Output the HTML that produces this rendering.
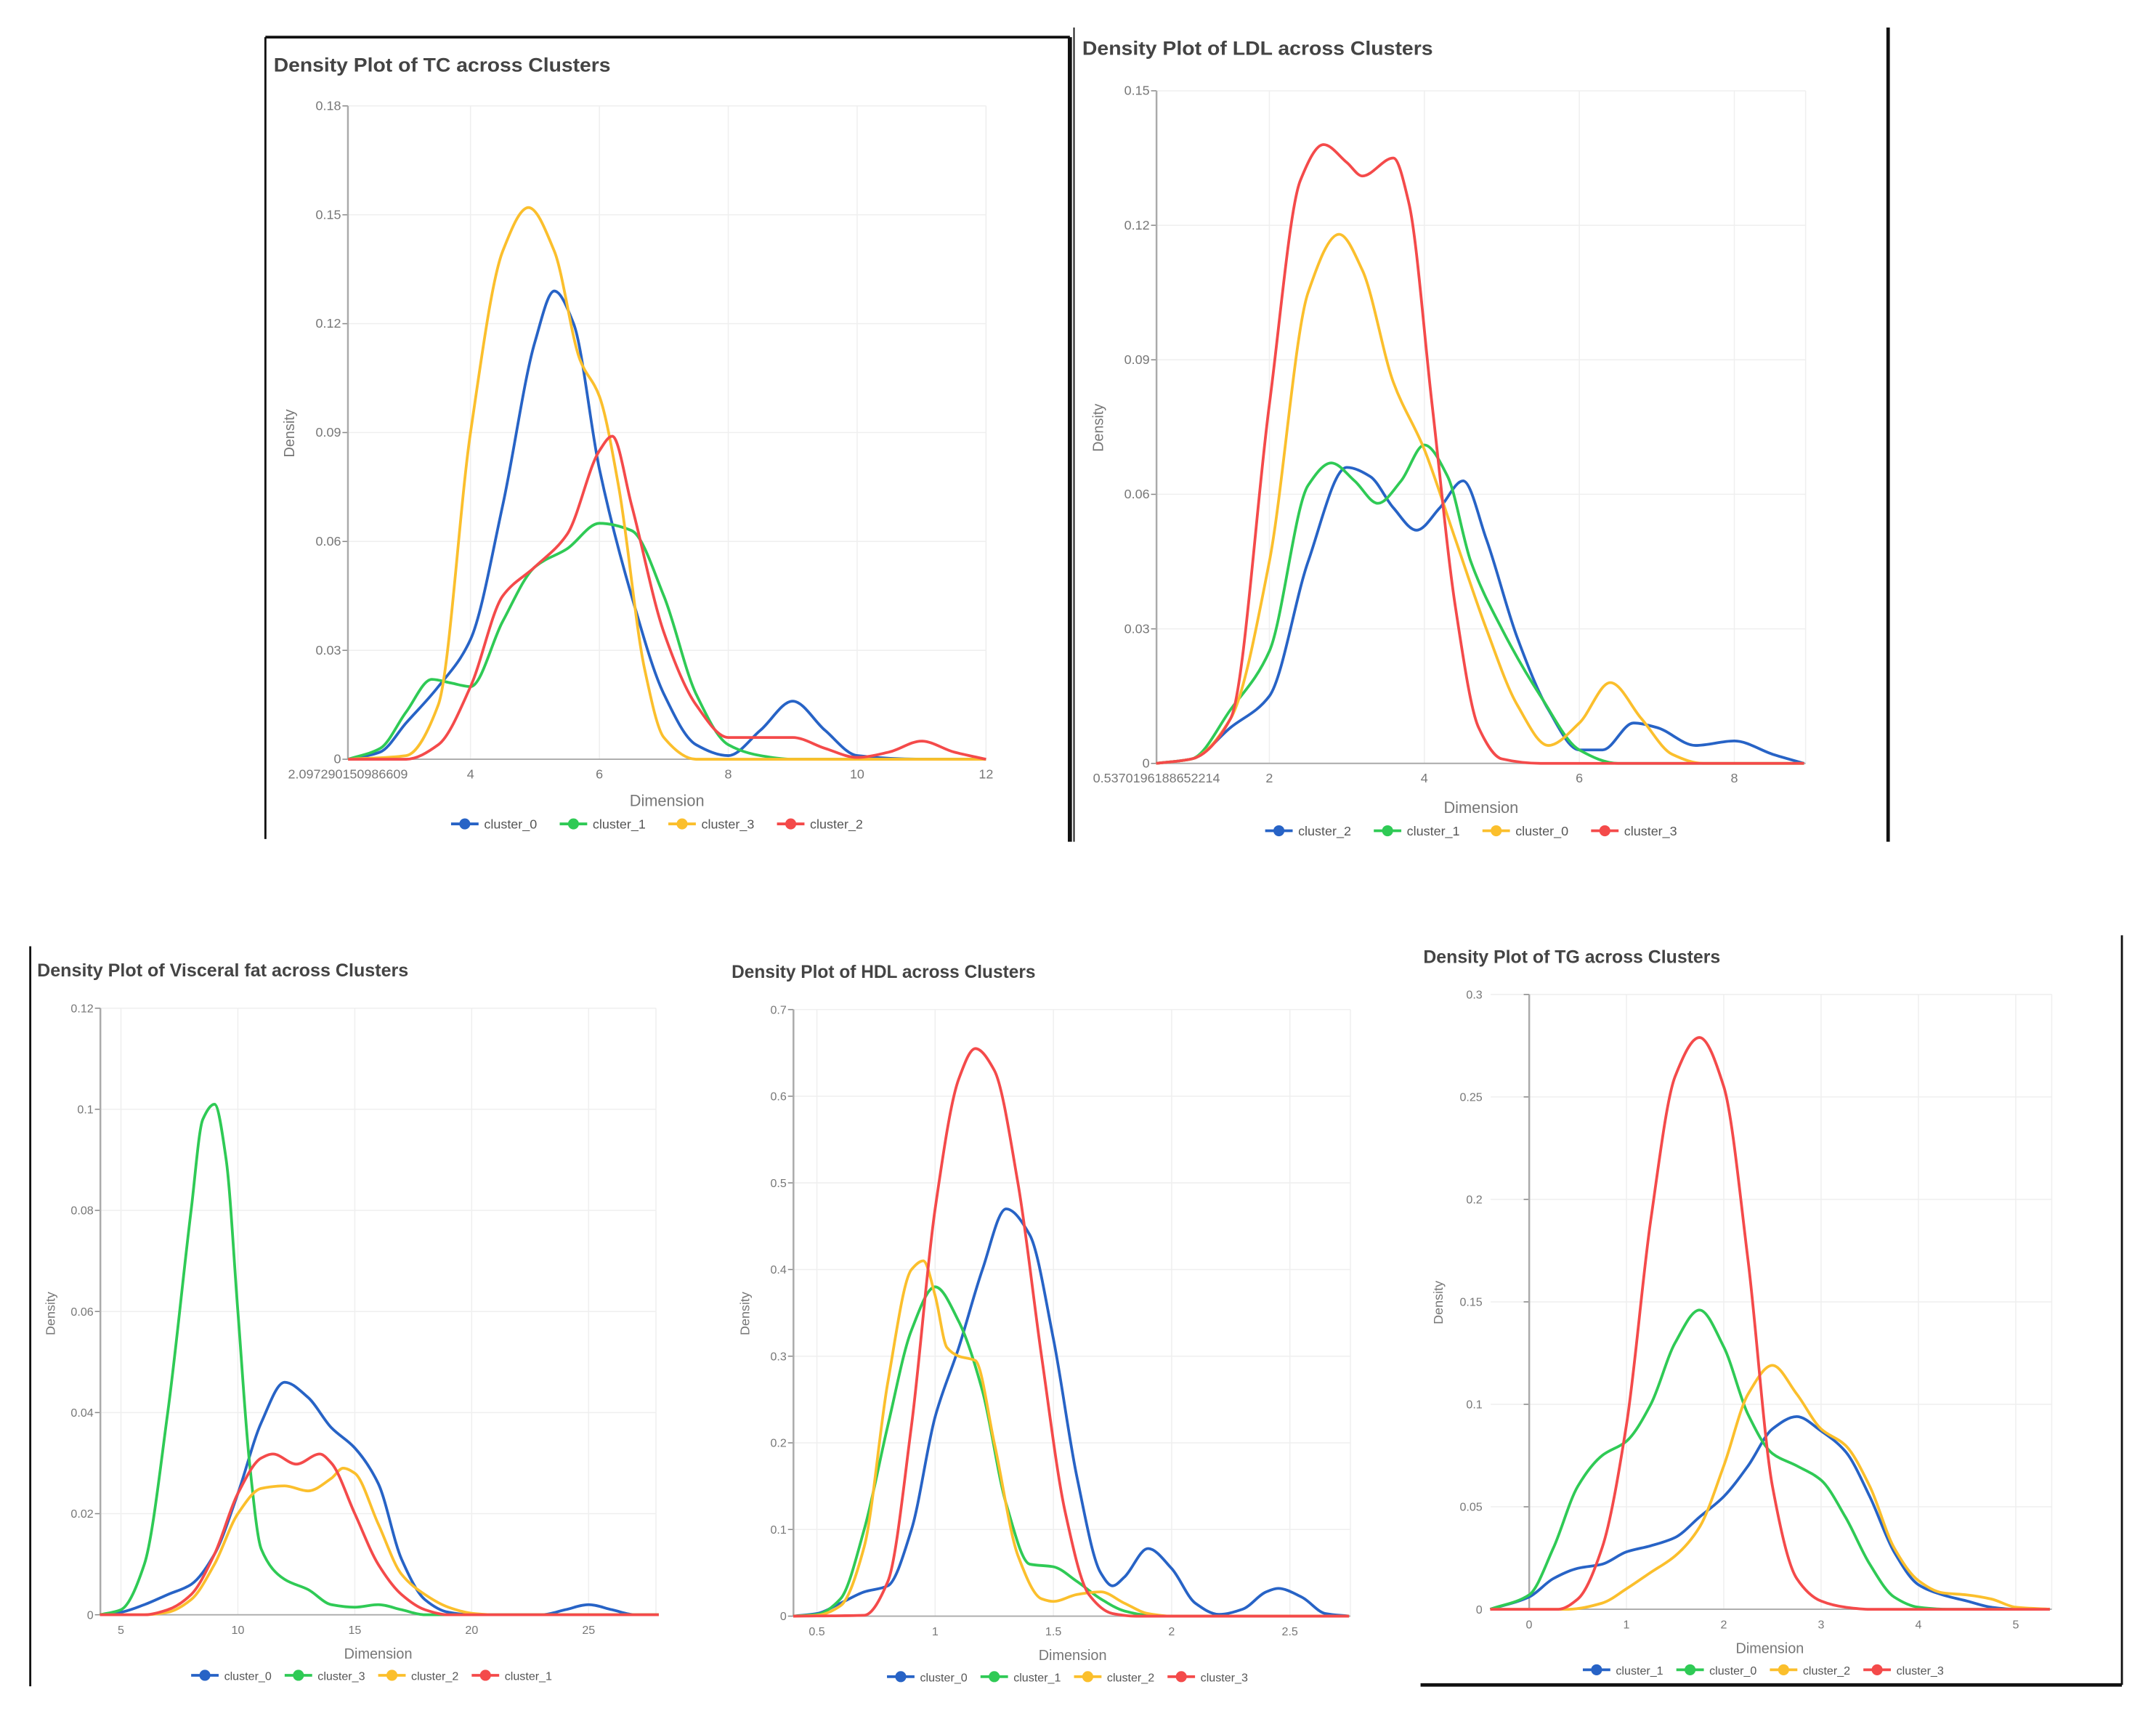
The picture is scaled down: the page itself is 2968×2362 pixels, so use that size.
<!DOCTYPE html>
<html><head><meta charset="utf-8"><style>
html,body{margin:0;padding:0;background:#fff;}
svg{display:block;font-family:"Liberation Sans",sans-serif;}
</style></head><body>
<svg id="root" width="2968" height="2362" viewBox="0 0 1567.8 1247.6" preserveAspectRatio="none" xmlns="http://www.w3.org/2000/svg">
<g stroke="#111" fill="none">
<line x1="193" y1="27" x2="193" y2="610" stroke-width="1.5"/>
<line x1="193" y1="27" x2="778" y2="27" stroke-width="2"/>
<line x1="778" y1="27" x2="778" y2="612" stroke-width="3"/>
<line x1="781" y1="20" x2="781" y2="612" stroke-width="1"/>
<line x1="1373" y1="20" x2="1373" y2="612" stroke-width="2.5"/>
<line x1="22" y1="688" x2="22" y2="1226" stroke-width="1.5"/>
<line x1="1543" y1="680" x2="1543" y2="1225" stroke-width="1.5"/>
<line x1="1033" y1="1225" x2="1543" y2="1225" stroke-width="2.5"/>
</g>
</svg>
<script>
// ---- TC chart data ----
const tcCluster0 = [[2.1,0],[2.6,0.002],[3,0.01],[3.5,0.02],[4,0.033],[4.5,0.07],[5,0.115],[5.3,0.129],[5.6,0.12],[6,0.08],[6.5,0.045],[7,0.018],[7.5,0.004],[8,0.001],[8.5,0.008],[9,0.016],[9.5,0.008],[10,0.001],[11,0],[12,0]];
const tcCluster1 = [[2.1,0],[2.6,0.003],[3,0.013],[3.4,0.022],[3.7,0.021],[4,0.02],[4.5,0.038],[5,0.053],[5.5,0.058],[6,0.065],[6.5,0.063],[7,0.045],[7.5,0.018],[8,0.004],[8.5,0.001],[9,0],[12,0]];
const tcCluster3 = [[2.1,0],[3,0.001],[3.5,0.015],[4,0.09],[4.5,0.14],[4.9,0.152],[5.3,0.14],[5.7,0.11],[6,0.1],[6.3,0.075],[6.7,0.025],[7,0.006],[7.5,0],[12,0]];
const tcCluster2 = [[2.1,0],[3,0],[3.5,0.004],[4,0.02],[4.5,0.045],[5,0.053],[5.5,0.062],[6,0.085],[6.2,0.089],[6.5,0.07],[7,0.035],[7.5,0.015],[8,0.006],[8.5,0.006],[9,0.006],[9.5,0.003],[10,0.0005],[10.5,0.002],[11,0.005],[11.5,0.002],[12,0]];
const tcXTicks = [4,6,8,10,12];
const tcYTicks = [0,0.03,0.06,0.09,0.12,0.15,0.18];
// ---- LDL chart data ----
const ldlCluster2 = [[0.54,0],[1,0.001],[1.5,0.008],[2,0.015],[2.5,0.045],[3,0.066],[3.3,0.064],[3.6,0.057],[3.9,0.052],[4.2,0.057],[4.5,0.063],[4.8,0.05],[5.2,0.028],[5.6,0.012],[6,0.003],[6.3,0.003],[6.7,0.009],[7,0.008],[7.5,0.004],[8,0.005],[8.5,0.002],[8.9,0]];
const ldlCluster1 = [[0.54,0],[1,0.001],[1.5,0.012],[2,0.025],[2.5,0.062],[2.8,0.067],[3.1,0.063],[3.4,0.058],[3.7,0.063],[4,0.071],[4.3,0.064],[4.6,0.045],[5,0.03],[5.5,0.015],[6,0.003],[6.5,0],[8.9,0]];
const ldlCluster0 = [[0.54,0],[1,0.001],[1.5,0.01],[2,0.045],[2.5,0.105],[2.9,0.118],[3.2,0.11],[3.6,0.085],[4,0.07],[4.4,0.05],[4.8,0.03],[5.2,0.013],[5.6,0.004],[6,0.009],[6.4,0.018],[6.8,0.01],[7.2,0.002],[7.6,0],[8.9,0]];
const ldlCluster3 = [[0.54,0],[1,0.001],[1.5,0.01],[2,0.08],[2.4,0.13],[2.7,0.138],[3,0.134],[3.2,0.131],[3.6,0.135],[3.8,0.125],[4.1,0.08],[4.4,0.035],[4.7,0.008],[5,0.001],[5.5,0],[8.9,0]];
const ldlXTicks = [2,4,6,8];
const ldlYTicks = [0,0.03,0.06,0.09,0.12,0.15];
// ---- Visceral fat chart data ----
const vfCluster0 = [[4.1,0],[5,0.0005],[6,0.002],[7,0.004],[8,0.006],[9,0.012],[10,0.024],[11,0.038],[12,0.046],[13,0.043],[14,0.037],[15,0.033],[16,0.026],[17,0.011],[18,0.003],[19,0.0005],[20,0],[23,0],[24,0.001],[25,0.002],[26,0.001],[27,0],[28,0]];
const vfCluster3 = [[4.1,0],[5,0.001],[6,0.01],[7,0.04],[8,0.08],[8.5,0.098],[9,0.101],[9.5,0.09],[10,0.06],[10.5,0.03],[11,0.013],[12,0.007],[13,0.005],[14,0.002],[15,0.0015],[16,0.002],[17,0.001],[18,0],[28,0]];
const vfCluster2 = [[4.1,0],[6,0],[7,0.0005],[8,0.003],[9,0.01],[10,0.02],[11,0.025],[12,0.0255],[13,0.0245],[14,0.027],[14.5,0.029],[15,0.028],[16,0.018],[17,0.008],[18,0.004],[19,0.0015],[20,0.0003],[21,0],[28,0]];
const vfCluster1 = [[4.1,0],[6,0],[7,0.001],[8,0.004],[9,0.012],[10,0.024],[11,0.031],[11.5,0.0318],[12.5,0.0298],[13.5,0.0318],[14,0.03],[15,0.02],[16,0.01],[17,0.004],[18,0.001],[19,0],[28,0]];
const vfXTicks = [5,10,15,20,25];
const vfYTicks = [0,0.02,0.04,0.06,0.08,0.1,0.12];
// ---- HDL chart data ----
const hdlCluster0 = [[0.4,0],[0.5,0.003],[0.6,0.015],[0.7,0.028],[0.8,0.035],[0.9,0.1],[1,0.23],[1.1,0.31],[1.2,0.4],[1.3,0.47],[1.4,0.44],[1.5,0.32],[1.6,0.16],[1.7,0.05],[1.75,0.035],[1.8,0.045],[1.9,0.078],[2,0.055],[2.1,0.015],[2.2,0.002],[2.3,0.008],[2.4,0.028],[2.45,0.032],[2.55,0.022],[2.65,0.003],[2.75,0]];
const hdlCluster1 = [[0.4,0],[0.5,0.002],[0.6,0.02],[0.7,0.1],[0.8,0.22],[0.9,0.33],[1,0.38],[1.1,0.34],[1.2,0.26],[1.3,0.13],[1.4,0.06],[1.5,0.057],[1.6,0.04],[1.7,0.02],[1.8,0.006],[1.9,0.001],[2,0],[2.75,0]];
const hdlCluster2 = [[0.4,0],[0.5,0.001],[0.6,0.012],[0.7,0.08],[0.8,0.27],[0.9,0.4],[0.95,0.41],[1,0.37],[1.05,0.31],[1.1,0.3],[1.17,0.295],[1.25,0.2],[1.35,0.07],[1.45,0.02],[1.5,0.017],[1.6,0.025],[1.7,0.028],[1.8,0.015],[1.9,0.003],[2,0],[2.75,0]];
const hdlCluster3 = [[0.4,0],[0.7,0.001],[0.8,0.04],[0.9,0.22],[1,0.47],[1.1,0.62],[1.17,0.655],[1.25,0.63],[1.35,0.5],[1.45,0.3],[1.55,0.12],[1.65,0.025],[1.75,0.003],[1.85,0],[2.75,0]];
const hdlXTicks = [0.5,1,1.5,2,2.5];
const hdlYTicks = [0,0.1,0.2,0.3,0.4,0.5,0.6,0.7];
// ---- TG chart data ----
const tgCluster1 = [[-0.4,0],[0,0.006],[0.25,0.015],[0.5,0.02],[0.75,0.022],[1,0.028],[1.25,0.031],[1.5,0.035],[1.75,0.045],[2,0.055],[2.25,0.07],[2.5,0.088],[2.75,0.094],[3,0.087],[3.25,0.077],[3.5,0.055],[3.75,0.028],[4,0.012],[4.25,0.007],[4.5,0.004],[4.75,0.001],[5,0],[5.35,0]];
const tgCluster0 = [[-0.4,0],[0,0.007],[0.25,0.03],[0.5,0.06],[0.75,0.075],[1,0.082],[1.25,0.1],[1.5,0.13],[1.75,0.146],[2,0.128],[2.25,0.095],[2.5,0.076],[2.75,0.07],[3,0.063],[3.25,0.045],[3.5,0.022],[3.75,0.006],[4,0.001],[4.3,0],[5.35,0]];
const tgCluster2 = [[-0.4,0],[0.4,0],[0.75,0.003],[1,0.01],[1.25,0.018],[1.5,0.026],[1.75,0.04],[2,0.07],[2.25,0.105],[2.5,0.119],[2.75,0.105],[3,0.088],[3.25,0.08],[3.5,0.06],[3.75,0.03],[4,0.014],[4.25,0.008],[4.5,0.007],[4.75,0.005],[5,0.001],[5.35,0]];
const tgCluster3 = [[-0.4,0],[0.3,0],[0.5,0.005],[0.75,0.03],[1,0.09],[1.25,0.19],[1.5,0.26],[1.75,0.279],[2,0.255],[2.25,0.17],[2.5,0.06],[2.75,0.015],[3,0.004],[3.25,0.001],[3.5,0],[5.35,0]];
const tgXTicks = [0,1,2,3,4,5];
const tgYTicks = [0,0.05,0.1,0.15,0.2,0.25,0.3];

const BLUE='#2763c6', GREEN='#2fca55', YELLOW='#fbbf2c', RED='#f44a4a';
const NS='http://www.w3.org/2000/svg';
const root=document.getElementById('root');
function mk(tag,attrs,parent){const e=document.createElementNS(NS,tag);for(const k in attrs)e.setAttribute(k,attrs[k]);(parent||root).appendChild(e);return e;}

function monotonePath(pts){
  const n=pts.length; if(n<2) return '';
  const dx=[],dy=[],m=[];
  for(let i=0;i<n-1;i++){dx.push(pts[i+1][0]-pts[i][0]);dy.push(pts[i+1][1]-pts[i][1]);m.push(dy[i]/dx[i]);}
  const t=[m[0]];
  for(let i=1;i<n-1;i++){ if(m[i-1]*m[i]<=0) t.push(0); else { const w1=2*dx[i]+dx[i-1], w2=dx[i]+2*dx[i-1]; t.push((w1+w2)/(w1/m[i-1]+w2/m[i])); } }
  t.push(m[n-2]);
  let d='M'+pts[0][0].toFixed(2)+','+pts[0][1].toFixed(2);
  for(let i=0;i<n-1;i++){
    const h=dx[i]/3;
    d+='C'+(pts[i][0]+h).toFixed(2)+','+(pts[i][1]+t[i]*h).toFixed(2)+' '+(pts[i+1][0]-h).toFixed(2)+','+(pts[i+1][1]-t[i+1]*h).toFixed(2)+' '+pts[i+1][0].toFixed(2)+','+pts[i+1][1].toFixed(2);
  }
  return d;
}

function drawChart(c){
  const g=mk('g',{});
  
  
  const xs=v=>c.px0+(v-c.xmin)/(c.xmax-c.xmin)*(c.px1-c.px0);
  const ys=v=>c.py0-(v/c.ymax)*(c.py0-c.py1);
  const title=mk('text',{x:c.tx,y:c.ty,'font-size':c.tfs,'font-weight':'bold',fill:'#444',textLength:c.tw,lengthAdjust:'spacingAndGlyphs'},g);
  title.textContent=c.title;
  
  
  const labX = c.labX!==undefined ? c.labX : c.yax-5;
  // grid
  c.yticks.forEach(v=>{ if(v>0){ const gl=mk('line',{x1:c.px0,x2:c.px1,y1:ys(v),y2:ys(v),stroke:'#efefef','stroke-width':0.8},g);
    
     }});
  c.xticks.forEach(v=>{ const gl=mk('line',{x1:xs(v),x2:xs(v),y1:c.py1,y2:c.py0,stroke:'#efefef','stroke-width':0.8},g);
    
     });
  mk('line',{x1:c.px1,x2:c.px1,y1:c.py1,y2:c.py0,stroke:'#efefef','stroke-width':0.8},g);
  // y ticks
  c.yticks.forEach(v=>{
    mk('line',{x1:c.yax-4,x2:c.yax,y1:ys(v),y2:ys(v),stroke:'#888','stroke-width':0.8},g);
    const t=mk('text',{x:labX,y:ys(v)+3,'font-size':c.fs,'text-anchor':'end',fill:'#777'},g);
    t.textContent=String(v);
    
    
  });
  c.xticks.forEach(v=>{
    const t=mk('text',{x:xs(v),y:c.py0+14,'font-size':c.fs,'text-anchor':'middle',fill:'#777'},g);
    t.textContent=String(v);
    
    
  });
  if(c.minLabel){
    const t=mk('text',{x:c.px0,y:c.py0+14,'font-size':c.fs,'text-anchor':'middle',fill:'#777'},g);
    t.textContent=c.minLabel;
    
    
  }
  const ya=mk('line',{x1:c.yax,x2:c.yax,y1:c.py1,y2:c.py0,stroke:'#aaa','stroke-width':1.3},g);
  
  
  const xa=mk('line',{x1:c.px0,x2:c.px1,y1:c.py0,y2:c.py0,stroke:'#aaa','stroke-width':1},g);
  
  
  const xt=mk('text',{x:c.xlx,y:c.xly,'font-size':c.fs+2,'text-anchor':'middle',fill:'#777'},g);
  xt.textContent='Dimension';
  
  
  const yt=mk('text',{x:c.ylx,y:c.yly,'font-size':c.fs+1,'text-anchor':'middle',fill:'#777',transform:'rotate(-90 '+c.ylx+' '+c.yly+')'},g);
  yt.textContent='Density';
  
  
  // series
  c.series.forEach(s=>{
    const pts=s.data.map(p=>[xs(p[0]),ys(p[1])]);
    const p=mk('path',{d:monotonePath(pts),fill:'none',stroke:s.color,'stroke-width':2,'stroke-linejoin':'round'},g);
    
    
  });
  // legend
  const itemW=c.legW, total=itemW*c.series.length;
  let lx=c.lcx-total/2;
  c.series.forEach(s=>{
    const lg=mk('g',{},g);
    
    
    mk('line',{x1:lx,x2:lx+20,y1:c.ly,y2:c.ly,stroke:s.color,'stroke-width':2},lg);
    mk('circle',{cx:lx+10,cy:c.ly,r:4,fill:s.color},lg);
    const t=mk('text',{x:lx+24,y:c.ly+3.5,'font-size':c.fs,fill:'#555'},lg);
    t.textContent=s.label;
    lx+=itemW;
  });
}

drawChart({name:'tc-density-chart',title:'Density Plot of TC across Clusters',tx:199,ty:52,tfs:14,tw:245,
  px0:253,px1:717,xmin:2.0973,xmax:12,py0:552,py1:77,ymax:0.18,yax:253,fs:9.5,
  xticks:tcXTicks,yticks:tcYTicks,minLabel:'2.097290150986609',
  xlx:485,xly:586,ylx:214,yly:315,lcx:486,ly:599,legW:79,
  series:[{label:'cluster_0',color:BLUE,data:tcCluster0},{label:'cluster_1',color:GREEN,data:tcCluster1},{label:'cluster_3',color:YELLOW,data:tcCluster3},{label:'cluster_2',color:RED,data:tcCluster2}]});
drawChart({name:'ldl-density-chart',title:'Density Plot of LDL across Clusters',tx:787,ty:40,tfs:14,tw:255,
  px0:841,px1:1313,xmin:0.544,xmax:8.92,py0:555,py1:66,ymax:0.15,yax:841,fs:9.5,
  xticks:ldlXTicks,yticks:ldlYTicks,minLabel:'0.5370196188652214',
  xlx:1077,xly:591,ylx:802,yly:311,lcx:1078,ly:604,legW:79,
  series:[{label:'cluster_2',color:BLUE,data:ldlCluster2},{label:'cluster_1',color:GREEN,data:ldlCluster1},{label:'cluster_0',color:YELLOW,data:ldlCluster0},{label:'cluster_3',color:RED,data:ldlCluster3}]});
drawChart({name:'visceral-fat-density-chart',title:'Density Plot of  Visceral fat across Clusters',tx:27,ty:710,tfs:13,tw:270,
  px0:73,px1:477,xmin:4.12,xmax:27.88,py0:1174,py1:733,ymax:0.12,yax:73,fs:8.5,
  xticks:vfXTicks,yticks:vfYTicks,
  xlx:275,xly:1206,ylx:40,yly:955,lcx:275,ly:1218,legW:68,
  series:[{label:'cluster_0',color:BLUE,data:vfCluster0},{label:'cluster_3',color:GREEN,data:vfCluster3},{label:'cluster_2',color:YELLOW,data:vfCluster2},{label:'cluster_1',color:RED,data:vfCluster1}]});
drawChart({name:'hdl-density-chart',title:'Density Plot of HDL across Clusters',tx:532,ty:711,tfs:13,tw:221,
  px0:577,px1:982,xmin:0.401,xmax:2.756,py0:1175,py1:734,ymax:0.7,yax:577,fs:8.5,
  xticks:hdlXTicks,yticks:hdlYTicks,
  xlx:780,xly:1207,ylx:545,yly:955,lcx:781,ly:1219,legW:68,
  series:[{label:'cluster_0',color:BLUE,data:hdlCluster0},{label:'cluster_1',color:GREEN,data:hdlCluster1},{label:'cluster_2',color:YELLOW,data:hdlCluster2},{label:'cluster_3',color:RED,data:hdlCluster3}]});
drawChart({name:'tg-density-chart',title:'Density Plot of TG across Clusters',tx:1035,ty:700,tfs:13,tw:216,
  px0:1084,px1:1492,xmin:-0.395,xmax:5.37,py0:1170,py1:723,ymax:0.3,yax:1112,labX:1078,fs:8.5,
  xticks:tgXTicks,yticks:tgYTicks,
  xlx:1287,xly:1202,ylx:1049,yly:947,lcx:1287,ly:1214,legW:68,
  series:[{label:'cluster_1',color:BLUE,data:tgCluster1},{label:'cluster_0',color:GREEN,data:tgCluster0},{label:'cluster_2',color:YELLOW,data:tgCluster2},{label:'cluster_3',color:RED,data:tgCluster3}]});
</script>
</body></html>
